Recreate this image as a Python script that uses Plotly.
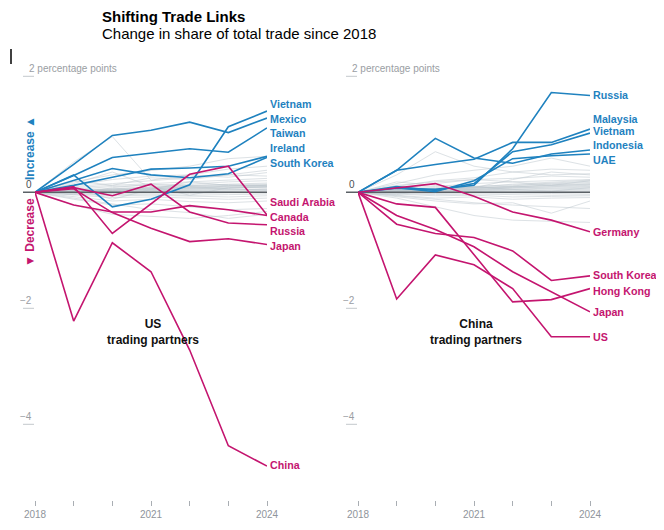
"""
Shifting trade links: change in share of total trade since 2018,
for US and China trading partners
"""

import plotly.graph_objects as go

W, H = 664, 530
OFF = 8  # page body margin of the browser, compensated in all positions
BLUE = '#1f82bf'
MAGENTA = '#c4156f'
GREY_LINE = '#bcc6cd'
FONT = 'Liberation Sans, Arial, sans-serif'


def px_x(p):
    return (p - OFF) / W


def px_y(p):
    return 1 - (p - OFF) / H


years = [2018, 2019, 2020, 2021, 2022, 2023, 2024]
year_labels = ['2018', '', '', '2021', '', '', '2024']

########## US trading partners (percentage points) ##########
us_vietnam = [0, 0.30, -0.25, -0.12, 0.13, 1.13, 1.40]
us_mexico = [0, 0.48, 0.98, 1.07, 1.21, 1.03, 1.28]
us_taiwan = [0, 0.29, 0.60, 0.67, 0.75, 0.69, 1.11]
us_ireland = [0, 0.12, 0.26, 0.40, 0.42, 0.45, 0.62]
us_south_korea = [0, 0.20, 0.41, 0.30, 0.25, 0.32, 0.60]
us_saudi_arabia = [0, -0.22, -0.34, -0.34, -0.23, -0.30, -0.40]
us_canada = [0, 0.10, -0.71, -0.20, 0.31, 0.45, -0.39]
us_russia = [0, 0.08, -0.06, 0.14, -0.34, -0.53, -0.56]
us_japan = [0, 0.06, -0.35, -0.62, -0.85, -0.80, -0.90]
us_china = [0, -2.22, -0.87, -1.37, -2.72, -4.37, -4.72]

us_others = [
    [0, 0.52, 0.96, 0.21, 0.30, 0.26, 0.34],
    [0, 0.18, 0.30, 0.38, 0.45, 0.58, 0.62],
    [0, 0.12, 0.22, 0.28, 0.30, 0.40, 0.45],
    [0, 0.10, 0.15, 0.20, 0.26, 0.30, 0.38],
    [0, 0.08, 0.12, 0.15, 0.18, 0.22, 0.24],
    [0, 0.05, 0.10, 0.12, 0.14, 0.18, 0.20],
    [0, 0.04, 0.06, 0.09, 0.11, 0.14, 0.16],
    [0, 0.03, 0.05, 0.07, 0.09, 0.11, 0.12],
    [0, 0.02, 0.04, 0.05, 0.06, 0.08, 0.09],
    [0, 0.02, 0.02, 0.03, 0.04, 0.05, 0.06],
    [0, 0.01, 0.01, 0.02, 0.02, 0.03, 0.03],
    [0, 0.01, -0.01, 0.01, 0.01, 0.02, 0.02],
    [0, 0.03, 0.06, 0.08, 0.12, 0.13, 0.14],
    [0, 0.02, 0.05, 0.06, 0.10, 0.12, 0.11],
    [0, 0.04, 0.03, 0.07, 0.08, 0.10, 0.13],
    [0, 0.01, 0.04, 0.05, 0.07, 0.09, 0.08],
    [0, 0.02, 0.03, 0.04, 0.05, 0.07, 0.10],
    [0, 0.01, 0.02, 0.03, 0.03, 0.04, 0.05],
    [0, -0.01, -0.02, -0.01, -0.02, -0.01, -0.01],
    [0, -0.02, -0.04, -0.03, -0.05, -0.04, -0.03],
    [0, -0.03, -0.06, -0.05, -0.07, -0.08, -0.06],
    [0, -0.05, -0.09, -0.08, -0.10, -0.12, -0.10],
    [0, -0.08, -0.15, -0.12, -0.16, -0.18, -0.15],
    [0, -0.12, -0.22, -0.20, -0.25, -0.30, -0.28],
    [0, -0.22, -0.38, -0.42, -0.45, -0.40, -0.33],
    [0, -0.10, -0.20, -0.30, -0.35, -0.45, -0.38],
    [0, 0.15, 0.35, 0.10, -0.05, 0.08, 0.12],
    [0, 0.06, -0.12, 0.05, 0.18, 0.12, 0.10],
    [0, 0.20, 0.12, 0.25, 0.22, 0.30, 0.28],
    [0, -0.04, 0.08, 0.14, 0.10, 0.06, 0.04],
]

########## China trading partners (percentage points) ##########
cn_russia = [0, 0.07, 0.05, 0.12, 0.75, 1.72, 1.67]
cn_malaysia = [0, 0.38, 0.48, 0.57, 0.86, 0.86, 1.09]
cn_vietnam = [0, 0.10, 0.03, 0.15, 0.70, 0.82, 1.02]
cn_indonesia = [0, 0.38, 0.93, 0.59, 0.50, 0.66, 0.73]
cn_uae = [0, 0.08, 0.01, 0.20, 0.58, 0.63, 0.66]
cn_germany = [0, 0.07, 0.15, -0.07, -0.34, -0.48, -0.68]
cn_south_korea = [0, -0.55, -0.71, -0.78, -1.01, -1.52, -1.44]
cn_hong_kong = [0, -0.20, -0.26, -1.07, -1.89, -1.85, -1.66]
cn_japan = [0, -0.40, -0.64, -0.94, -1.37, -1.71, -2.06]
cn_us = [0, -1.84, -1.08, -1.25, -1.66, -2.49, -2.49]

cn_others = [
    [0, 0.30, 0.70, 0.45, 0.35, 0.40, 0.38],
    [0, 0.15, 0.30, 0.38, 0.45, 0.59, 0.45],
    [0, 0.10, 0.20, 0.25, 0.35, 0.30, 0.32],
    [0, 0.12, 0.18, 0.22, 0.24, 0.28, 0.26],
    [0, 0.08, 0.10, 0.15, 0.18, 0.20, 0.22],
    [0, 0.05, 0.08, 0.10, 0.12, 0.15, 0.17],
    [0, 0.04, 0.06, 0.08, 0.10, 0.12, 0.13],
    [0, 0.03, 0.04, 0.05, 0.08, 0.09, 0.10],
    [0, 0.02, 0.03, 0.04, 0.05, 0.06, 0.07],
    [0, 0.01, 0.02, 0.03, 0.03, 0.04, 0.05],
    [0, 0.01, 0.01, 0.02, 0.02, 0.02, 0.03],
    [0, 0.00, -0.01, 0.01, 0.00, 0.01, 0.01],
    [0, 0.03, 0.05, 0.09, 0.14, 0.18, 0.21],
    [0, 0.02, 0.04, 0.07, 0.11, 0.16, 0.19],
    [0, 0.04, 0.06, 0.06, 0.09, 0.13, 0.15],
    [0, 0.02, 0.05, 0.08, 0.10, 0.11, 0.14],
    [0, 0.01, 0.03, 0.05, 0.07, 0.10, 0.12],
    [0, 0.02, 0.02, 0.04, 0.06, 0.08, 0.09],
    [0, -0.01, -0.02, -0.01, -0.02, -0.02, -0.01],
    [0, -0.02, -0.04, -0.03, -0.04, -0.05, -0.04],
    [0, -0.03, -0.06, -0.05, -0.08, -0.07, -0.06],
    [0, -0.05, -0.10, -0.08, -0.12, -0.10, -0.09],
    [0, -0.08, -0.15, -0.20, -0.18, -0.36, -0.15],
    [0, -0.10, -0.25, -0.40, -0.48, -0.50, -0.52],
    [0, -0.06, -0.12, -0.18, -0.22, -0.25, -0.28],
    [0, 0.18, 0.12, 0.08, 0.22, 0.35, 0.30],
    [0, 0.05, 0.15, 0.22, 0.18, 0.12, 0.20],
    [0, -0.04, 0.06, 0.10, 0.05, 0.02, 0.08],
]

# highlighted series: (name, values, colour, label y in data units)
us_series = [
    ('Vietnam', us_vietnam, BLUE, 1.52),
    ('Mexico', us_mexico, BLUE, 1.27),
    ('Taiwan', us_taiwan, BLUE, 1.03),
    ('Ireland', us_ireland, BLUE, 0.76),
    ('South Korea', us_south_korea, BLUE, 0.50),
    ('Saudi Arabia', us_saudi_arabia, MAGENTA, -0.17),
    ('Canada', us_canada, MAGENTA, -0.42),
    ('Russia', us_russia, MAGENTA, -0.67),
    ('Japan', us_japan, MAGENTA, -0.93),
    ('China', us_china, MAGENTA, -4.70),
]
cn_series = [
    ('Russia', cn_russia, BLUE, 1.68),
    ('Malaysia', cn_malaysia, BLUE, 1.27),
    ('Vietnam', cn_vietnam, BLUE, 1.05),
    ('Indonesia', cn_indonesia, BLUE, 0.81),
    ('UAE', cn_uae, BLUE, 0.56),
    ('Germany', cn_germany, MAGENTA, -0.69),
    ('South Korea', cn_south_korea, MAGENTA, -1.43),
    ('Hong Kong', cn_hong_kong, MAGENTA, -1.70),
    ('Japan', cn_japan, MAGENTA, -2.07),
    ('US', cn_us, MAGENTA, -2.50),
]

Y_RANGE = [-5.3, 2.3]
Y_DOMAIN = [px_y(499.7), px_y(58.9)]
PANELS = [
    # axis suffix, left px of 2018, right px of 2024, caption
    ('', 35, 267, 'US', us_series, us_others),
    ('2', 358, 590, 'China', cn_series, cn_others),
]

fig = go.Figure()
shapes = []
annotations = []

for suffix, px0, px1, caption, series, others in PANELS:
    xa, ya = 'x' + suffix, 'y' + suffix
    span = px1 - px0

    for vals in others:
        fig.add_trace(go.Scatter(x=years, y=vals, xaxis=xa, yaxis=ya, mode='lines',
                                 line=dict(color=GREY_LINE, width=1), opacity=0.5,
                                 hoverinfo='skip', showlegend=False))

    # zero baseline (stub to the left of 2018 as a shape)
    fig.add_trace(go.Scatter(x=years, y=[0] * len(years), xaxis=xa, yaxis=ya, mode='lines',
                             line=dict(color='#5b6166', width=1.6),
                             hoverinfo='skip', showlegend=False))
    shapes.append(dict(type='line', xref=xa + ' domain', yref=ya, x0=-12 / span, x1=0,
                       y0=0, y1=0, line=dict(color='#5b6166', width=1.6)))

    for name, vals, colour, label_y in series:
        fig.add_trace(go.Scatter(x=years, y=vals, xaxis=xa, yaxis=ya, mode='lines',
                                 line=dict(color=colour, width=1.6), name=name,
                                 showlegend=False))
        annotations.append(dict(xref=xa, yref=ya, x=years[-1], y=label_y, xanchor='left',
                                yanchor='middle', xshift=1, showarrow=False,
                                text=f'<b>{name}</b>',
                                font=dict(family=FONT, size=10.7, color=colour)))

    # y tick marks and labels
    for tv in [2, -2, -4]:
        shapes.append(dict(type='line', xref=xa + ' domain', yref=ya, x0=-12 / span,
                           x1=-1 / span, y0=tv, y1=tv, line=dict(color='#c4c8cc', width=1)))
    annotations.append(dict(xref=xa + ' domain', yref=ya, x=-8 / span, y=2, xanchor='left',
                            yanchor='bottom', showarrow=False, text='2 percentage points',
                            font=dict(family=FONT, size=10, color='#9a9ea3')))
    annotations.append(dict(xref=xa + ' domain', yref=ya, x=-1 / span, y=0, xanchor='right',
                            yanchor='bottom', showarrow=False, text='0',
                            font=dict(family=FONT, size=10, color='#4a4f54')))
    for tv in [-2, -4]:
        annotations.append(dict(xref=xa + ' domain', yref=ya, x=-1 / span, y=tv,
                                xanchor='right', yanchor='bottom', showarrow=False,
                                text=f'\u2212{abs(tv)}',
                                font=dict(family=FONT, size=10, color='#9a9ea3')))

    annotations.append(dict(xref='paper', yref='paper', x=px_x(px0 + 0.507 * span),
                            y=px_y(332), xanchor='center', yanchor='middle',
                            showarrow=False,
                            text=f'<b>{caption}</b><br><b>trading partners</b>',
                            font=dict(family=FONT, size=12, color='#111111')))

    axis_x = dict(domain=[px_x(px0), px_x(px1)], range=[years[0], years[-1]],
                  tickvals=years, ticktext=year_labels, ticks='outside', ticklen=5,
                  tickcolor='#a9aeb3', tickwidth=1, showline=False, showgrid=False,
                  zeroline=False, tickfont=dict(family=FONT, size=10, color='#8f959b'),
                  anchor=ya, fixedrange=True, automargin=False)
    axis_y = dict(domain=Y_DOMAIN, range=Y_RANGE, visible=False, anchor=xa,
                  fixedrange=True, automargin=False)
    fig.update_layout(**{'xaxis' + suffix: axis_x, 'yaxis' + suffix: axis_y})

# increase / decrease markers on the left
annotations.append(dict(xref='paper', yref='paper', x=px_x(30), y=px_y(148),
                        xanchor='center', yanchor='middle', showarrow=False,
                        textangle=-90, text='<b>Increase \u25b2</b>',
                        font=dict(family=FONT, size=12, color=BLUE)))
annotations.append(dict(xref='paper', yref='paper', x=px_x(30), y=px_y(233),
                        xanchor='center', yanchor='middle', showarrow=False,
                        textangle=-90, text='<b>\u25bc Decrease</b>',
                        font=dict(family=FONT, size=12, color=MAGENTA)))

# title and subtitle (title kept just inside the top of the page)
annotations.append(dict(xref='paper', yref='paper', x=px_x(100), y=px_y(16.8),
                        xanchor='left', yanchor='middle', showarrow=False,
                        text='<b>Shifting Trade Links</b>',
                        font=dict(family=FONT, size=15, color='#000000')))
annotations.append(dict(xref='paper', yref='paper', x=px_x(100), y=px_y(33.5),
                        xanchor='left', yanchor='middle', showarrow=False,
                        text='Change in share of total trade since 2018',
                        font=dict(family=FONT, size=15, color='#000000')))

# small black bar at top left
shapes.append(dict(type='line', xref='paper', yref='paper', x0=px_x(11), x1=px_x(11),
                   y0=px_y(49), y1=px_y(64), line=dict(color='#000000', width=1.5)))

fig.update_layout(width=W, height=H,
                  margin=dict(l=0, r=0, t=0, b=0, pad=0, autoexpand=False),
                  paper_bgcolor='white', plot_bgcolor='white',
                  shapes=shapes, annotations=annotations, showlegend=False,
                  font=dict(family=FONT))

fig.write_html("out.html")
